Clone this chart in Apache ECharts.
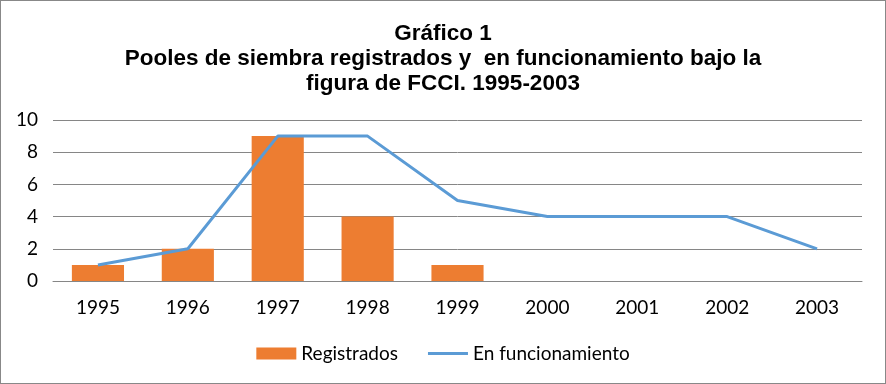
<!DOCTYPE html>
<html><head><meta charset="utf-8">
<script src="https://cdn.jsdelivr.net/npm/echarts@6/dist/echarts.min.js"></script>
<style>html,body{margin:0;padding:0;background:#fff}#c{width:886px;height:384px;box-sizing:border-box;border:1px solid #888}</style>
</head><body><div id="c"></div>
<script>
const categories = ['1995','1996','1997','1998','1999','2000','2001','2002','2003'];
const registrados = [1, 2, 9, 4, 1, null, null, null, null];
const enFuncionamiento = [1, 2, 9, 9, 5, 4, 4, 4, 2];
const yTicks = [0, 2, 4, 6, 8, 10];

const lab = 'Lato, Open Sans, sans-serif';
const chart = echarts.init(document.getElementById('c'));
chart.setOption({
  animation: false,
  textStyle: {fontFamily: 'Liberation Sans, Arial, sans-serif'},
  title: {
    text: 'Gráfico 1\nPooles de siembra registrados y  en funcionamiento bajo la\nfigura de FCCI. 1995-2003',
    left: 'center', top: 15,
    textStyle: {fontSize: 22.5, fontWeight: 'bold', color: '#000', lineHeight: 25, fontFamily: 'Liberation Sans, Arial, sans-serif'}
  },
  grid: {left: 52, right: 23, top: 119, bottom: 102},
  legend: {
    bottom: 15, left: 'center', itemGap: 30, itemWidth: 40, itemHeight: 12,
    textStyle: {fontSize: 19, color: '#000', fontFamily: lab},
    data: [{name: 'Registrados', icon: 'rect'}, {name: 'En funcionamiento', icon: 'path://M0,0L40,0L40,3L0,3Z'}]
  },
  xAxis: {
    type: 'category', data: categories,
    axisLine: {lineStyle: {color: '#868686'}}, axisTick: {show: false},
    axisLabel: {fontSize: 19, color: '#000', margin: 17, fontFamily: lab}
  },
  yAxis: {
    type: 'value', min: yTicks[0], max: yTicks[yTicks.length-1], interval: 2,
    axisLine: {show: false}, axisTick: {show: false},
    axisLabel: {fontSize: 19, color: '#000', margin: 15, fontFamily: lab},
    splitLine: {lineStyle: {color: '#868686'}}
  },
  series: [
    {name: 'Registrados', type: 'bar', data: registrados, barWidth: '58%', itemStyle: {color: '#ED7D31'}},
    {name: 'En funcionamiento', type: 'line', data: enFuncionamiento, symbol: 'none',
     lineStyle: {color: '#5B9BD5', width: 3}, itemStyle: {color: '#5B9BD5'}}
  ]
});
</script></body></html>
